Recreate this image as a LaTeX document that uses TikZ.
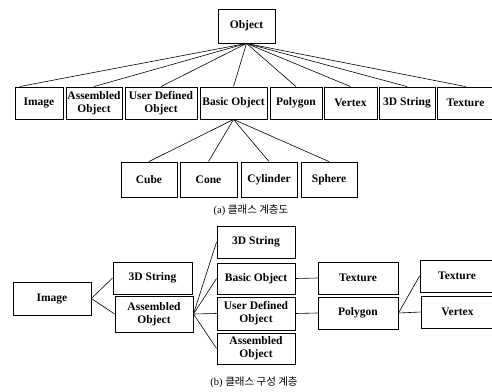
\documentclass[tikz,border=0pt]{standalone}
\usepackage{fontspec}
\setmainfont{Liberation Serif}
\newfontfamily\kofont{Noto Sans CJK KR}
\usetikzlibrary{calc}
\begin{document}
\begin{tikzpicture}[x=1pt,y=-1pt,
  box/.style={draw,line width=0.9pt,inner sep=1pt,align=center,
    font=\fontsize{11.5}{13}\selectfont\bfseries},
  link/.style={line width=0.6pt},
  captext/.style={font=\fontsize{10.5}{12}\selectfont}]
\useasboundingbox (0,0) rectangle (492,391);
% (a)
\node[box,minimum width=57,minimum height=34] (obj) at (246.5,26) {Object};
\node[box,minimum width=48,minimum height=32] (img) at (39,103) {Image};
\node[box,minimum width=56,minimum height=32] (asm) at (94,103) {Assembled\\Object};
\node[box,minimum width=72,minimum height=32] (udo) at (161,103) {User Defined\\Object};
\node[box,minimum width=67,minimum height=32] (bas) at (233.5,103) {Basic Object};
\node[box,minimum width=52,minimum height=32] (pol) at (296,103) {Polygon};
\node[box,minimum width=53,minimum height=32] (ver) at (350.5,103) {Vertex};
\node[box,minimum width=56,minimum height=32] (str) at (407,103) {3D String};
\node[box,minimum width=57,minimum height=32] (tex) at (465.5,103) {Texture};
\node[box,minimum width=56,minimum height=35] (cub) at (149,179.5) {Cube};
\node[box,minimum width=57,minimum height=35] (con) at (208.5,179.5) {Cone};
\node[box,minimum width=56,minimum height=35] (cyl) at (269,179.5) {Cylinder};
\node[box,minimum width=56,minimum height=35] (sph) at (329,179.5) {Sphere};
\draw[link] (obj.south) -- ($(img.north west)+(5,0)$);
\foreach \n in {asm,udo,bas,pol,ver,str,tex} \draw[link] (obj.south) -- (\n.north);
\foreach \n in {cub,con,cyl,sph} \draw[link] (bas.south) -- (\n.north);
\node[captext] (capa) at (251,210) {(a) {\kofont 클래스 계층도}};
% (b)
\node[box,minimum width=78,minimum height=33] (bimg) at (52,298.5) {Image};
\node[box,minimum width=79,minimum height=32] (bstr) at (152.5,278) {3D String};
\node[box,minimum width=78,minimum height=36] (basm) at (154,314) {Assembled\\Object};
\node[box,minimum width=78,minimum height=32] (cstr) at (256,242) {3D String};
\node[box,minimum width=78,minimum height=31] (cbas) at (256,278.5) {Basic Object};
\node[box,minimum width=78,minimum height=33] (cudo) at (256,313.5) {User Defined\\Object};
\node[box,minimum width=78,minimum height=31] (casm) at (256,348.5) {Assembled\\Object};
\node[box,minimum width=80,minimum height=32] (dtex) at (358,278) {Texture};
\node[box,minimum width=80,minimum height=32] (dpol) at (358,313) {Polygon};
\node[box,minimum width=74,minimum height=32] (etex) at (457,276) {Texture};
\node[box,minimum width=73,minimum height=32] (ever) at (457.5,312) {Vertex};
\draw[link] (bimg.east) -- (bstr.west);
\draw[link] (bimg.east) -- (basm.west);
\foreach \n in {cstr,cbas,cudo,casm} \draw[link] (basm.east) -- (\n.west);
\draw[link] (cbas.east) -- (dtex.west);
\draw[link] (cudo.east) -- (dpol.west);
\draw[link] (dpol.east) -- (etex.west);
\draw[link] (dpol.east) -- (ever.west);
\node[captext] (capb) at (254,382) {(b) {\kofont 클래스 구성 계층}};
\end{tikzpicture}
\end{document}
